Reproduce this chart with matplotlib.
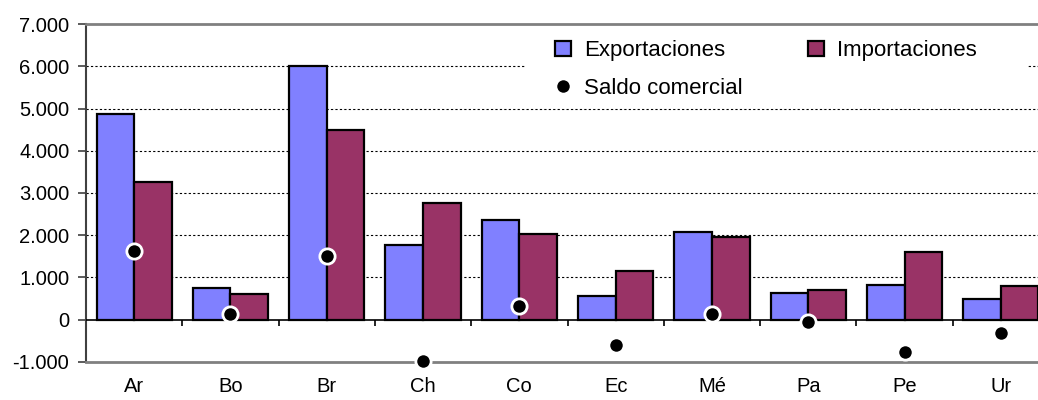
import matplotlib
matplotlib.use("Agg")
import matplotlib.pyplot as plt
from matplotlib.patches import Rectangle
import numpy as np

# datos (millones)
paises = ["Ar", "Bo", "Br", "Ch", "Co", "Ec", "Mé", "Pa", "Pe", "Ur"]
exportaciones = [4880, 740, 6010, 1770, 2350, 560, 2070, 640, 810, 480]
importaciones = [3260, 600, 4500, 2760, 2030, 1160, 1950, 700, 1590, 800]
saldo = [1620, 140, 1510, -990, 320, -600, 120, -60, -780, -320]
yticks = [-1000, 0, 1000, 2000, 3000, 4000, 5000, 6000, 7000]

plt.rcParams['font.family'] = ['Liberation Sans', 'DejaVu Sans']
plt.rcParams['font.size'] = 14.5

fig = plt.figure(figsize=(10.38, 4.0), dpi=100)
ax = fig.add_axes([86 / 1038, 38.3 / 400, 963 / 1038, 337.4 / 400])

x = np.arange(len(paises))
w = 0.39

b1 = ax.bar(x - w / 2, exportaciones, w, color="#8080FF", edgecolor="black", linewidth=1.6, zorder=3, label="Exportaciones")
b2 = ax.bar(x + w / 2, importaciones, w, color="#993366", edgecolor="black", linewidth=1.6, zorder=3, label="Importaciones")
p, = ax.plot(x, saldo, linestyle="none", marker="o", markersize=11, markerfacecolor="black",
             markeredgecolor="white", markeredgewidth=2, zorder=5, label="Saldo comercial", clip_on=False)

# lineas de grilla
for v in yticks[2:-1]:
    ax.axhline(v, color="black", linestyle=(0, (2, 2)), linewidth=0.8, zorder=1)
ax.axhline(0, color="black", linewidth=1.2, zorder=4)
ax.vlines(x[:-1] + 0.5, -150, 0, color="black", linewidth=1.2, zorder=4)

ax.set_xlim(-0.5, len(paises) - 0.5)
ax.set_ylim(-1000, 7000)
ax.set_yticks(yticks)
ax.set_yticklabels([f"{v:,}".replace(",", ".") for v in yticks])
ax.set_xticks(x)
ax.set_xticklabels(paises)
ax.tick_params(axis="x", length=0, pad=11)
ax.tick_params(axis="y", length=6, width=1.2, color="#404040", pad=6)

for s in ["top", "bottom", "right"]:
    ax.spines[s].set_color("#808080")
    ax.spines[s].set_linewidth(2)
ax.spines["left"].set_color("#404040")
ax.spines["left"].set_linewidth(1.5)

# fondo blanco de la leyenda
ax.add_patch(Rectangle((0.457, 0.765), 0.52, 0.226, transform=ax.transAxes,
                       facecolor="white", edgecolor="none", zorder=5.5))

leg = ax.legend([b1, p, b2], ["Exportaciones", "Saldo comercial", "Importaciones"], ncol=2,
                loc="upper left", bbox_to_anchor=(0.487, 0.952), borderaxespad=0, borderpad=0,
                frameon=False, handlelength=0.7, handleheight=0.7, handletextpad=0.6,
                columnspacing=2.95, labelspacing=0.75, fontsize=16)
leg.set_zorder(6)

fig.savefig("out.png", dpi=100)
